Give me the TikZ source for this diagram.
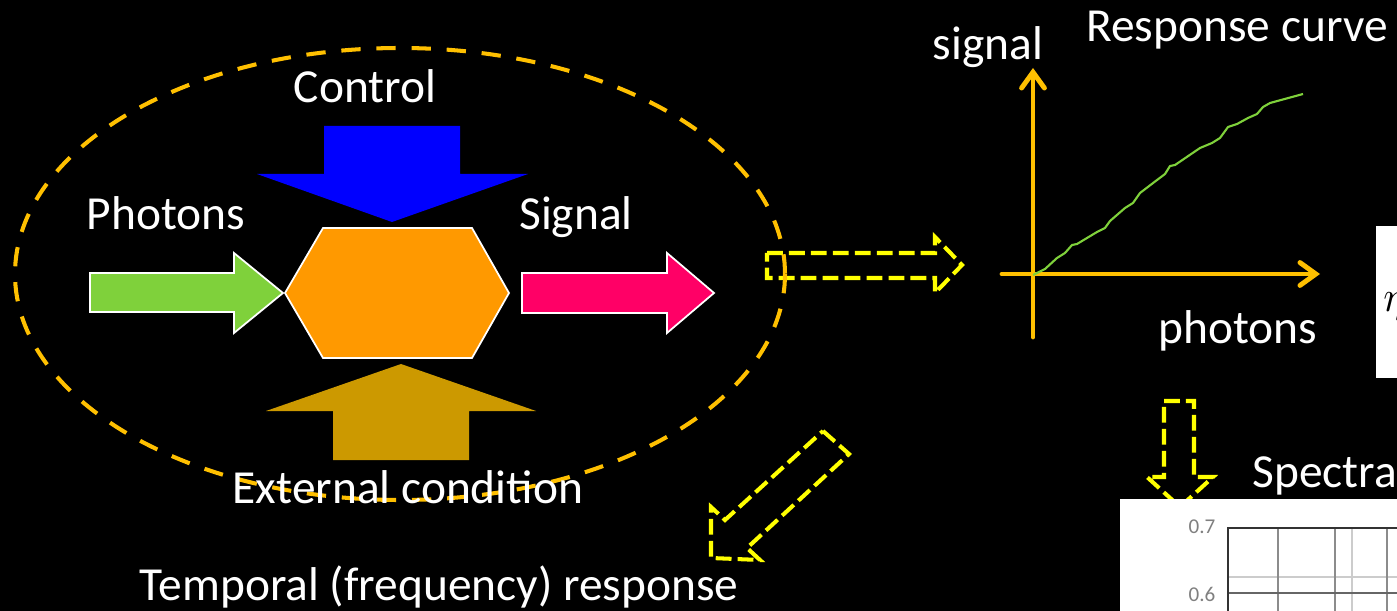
\documentclass[tikz,border=0pt]{standalone}
\usepackage{color}
\usepackage{tikz}
\usepackage{fontspec}
\setmainfont{Carlito}
\usetikzlibrary{arrows.meta}
\definecolor{ringorange}{HTML}{FFC000}
\definecolor{hexorange}{HTML}{FF9900}
\definecolor{photongreen}{HTML}{7FD13B}
\definecolor{signalpink}{HTML}{FF0066}
\definecolor{controlblue}{HTML}{0000FF}
\definecolor{extbrown}{HTML}{CC9900}
\definecolor{hintyellow}{HTML}{FFFF00}

\begin{document}
\begin{tikzpicture}[x=0.02cm,y=-0.02cm,
        txt/.style={text=white,font=\fontsize{27}{32}\selectfont,anchor=base,inner sep=0pt},
        block/.style={draw=white,line width=1pt,line join=miter},
        hint/.style={draw=hintyellow,line width=2.3pt,dash pattern=on 9pt off 3.5pt},
        ring/.style={draw=ringorange,line width=2.3pt,dash pattern=on 11pt off 9pt},
        axis/.style={draw=ringorange,line width=2.8pt,line cap=round,
            -{Straight Barb[length=9pt,width=13pt,line cap=round]}},
        tick/.style={text=black!50,font=\fontsize{12}{13}\selectfont}]
        \fill[black] (0,0) rectangle (1397,611);
        \useasboundingbox (0,0) rectangle (1397,611);
        \clip (0,0) rectangle (1397,611);

        \draw[hint] (767,253) -- (935,253) -- (935,237) -- (962,265) -- (935,293) -- (935,278) -- (767,278) -- cycle;
        \draw[hint] (1164,401) -- (1194,401) -- (1194,477) -- (1213,477) -- (1180,507) -- (1147,477) -- (1164,477) -- cycle;
        \draw[hint] (823,431) -- (849,454) -- (747,548) -- (760,560) -- (711,558) -- (711,507) -- (725,520) -- cycle;

        \draw[ring] (400,274) ellipse [x radius=385, y radius=226];

        \fill[controlblue] (324,126) -- (460,126) -- (460,174) -- (528,174) -- (392,222) -- (257,174) -- (324,174) -- cycle;
        \fill[extbrown] (401,364) -- (536,411) -- (469,411) -- (469,460) -- (333,460) -- (333,411) -- (266,411) -- cycle;
        \path[block,fill=photongreen] (90,273) -- (234,273) -- (234,253) -- (283,293) -- (234,333) -- (234,312) -- (90,312) -- cycle;
        \path[block,fill=signalpink] (522,273) -- (667,273) -- (667,253) -- (714,293) -- (667,333) -- (667,313) -- (522,313) -- cycle;
        \path[block,fill=hexorange] (323,228) -- (472,228) -- (509,293) -- (472,358) -- (323,358) -- (285,293) -- cycle;

        \coordinate (xstart) at (1002,274);
        \coordinate (xend) at (1320,274);
        \coordinate (ystart) at (1033,337);
        \coordinate (yend) at (1033,68);
        \draw[axis] (xstart) -- (xend);
        \draw[axis] (ystart) -- (yend);
        \draw[photongreen,line width=1.2pt,line join=round] (1033,275) -- (1045,269) -- (1057,258) -- (1065,253)
            -- (1072,245) -- (1077,244) -- (1097,232) -- (1105,228) -- (1110,221) -- (1125,208) -- (1133,203)
            -- (1140,193) -- (1157,180) -- (1165,174) -- (1170,166) -- (1175,165) -- (1200,148) -- (1212,143)
            -- (1220,138) -- (1228,127) -- (1237,124) -- (1248,118) -- (1257,114) -- (1263,107) -- (1270,103)
            -- (1303,94);

        \fill[white] (1376,226) rectangle (1397,378);
        \node[anchor=base west,inner sep=0pt,font=\fontsize{30}{34}\selectfont] (eff) at (1383,312) {$\eta$};

        \fill[white] (1120,499) rectangle (1397,611);
        \draw[black!20,line width=0.6pt] (1352,528) -- (1352,611) (1228,577) -- (1397,577);
        \draw[black!45,line width=1pt] (1278,528) -- (1278,611) (1335,528) -- (1335,611) (1387,528) -- (1387,611);
        \draw[black!60,line width=1pt] (1228,593) -- (1397,593);
        \draw[black!80,line width=1.5pt] (1228,611) -- (1228,528) -- (1397,528);
        \node[tick] (t7) at (1202,527) {0.7};
        \node[tick] (t6) at (1202,594) {0.6};

        \node[txt] (control) at (365,103) {Control};
        \node[txt] (photons) at (166,230) {Photons};
        \node[txt] (signal) at (576,230) {Signal};
        \node[txt] (external) at (408,503) {External condition};
        \node[txt] (temporal) at (439,600) {Temporal (frequency) response};
        \node[txt] (ylab) at (988,60) {signal};
        \node[txt] (curve) at (1237,42) {Response curve};
        \node[txt] (xlab) at (1238,343) {photons};
        \node[txt,anchor=base west] (spectral) at (1252,487) {Spectral response};
    \end{tikzpicture}
\end{document}
